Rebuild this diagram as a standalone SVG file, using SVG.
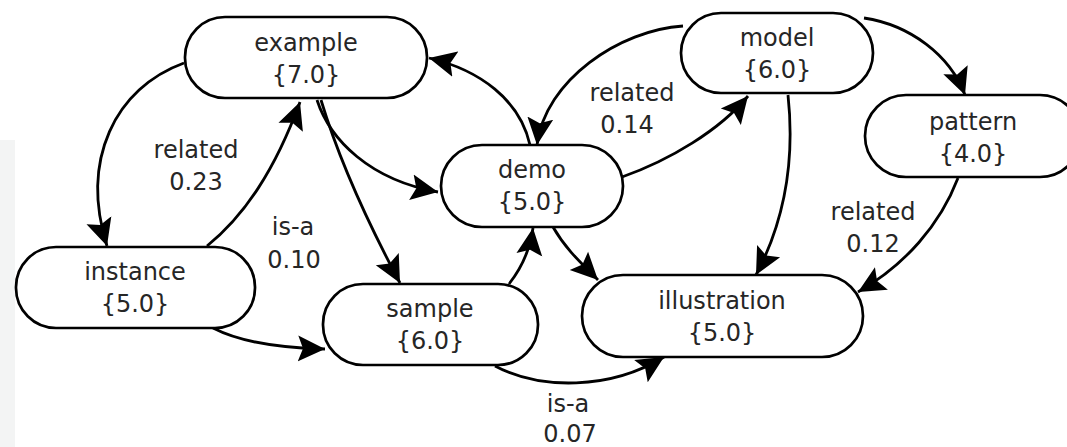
<svg xmlns="http://www.w3.org/2000/svg" width="1067" height="447" viewBox="0 0 1067 447">
<style>
.n rect{fill:#fff;stroke:#000;stroke-width:2.7}
text{font-family:"DejaVu Sans","Liberation Sans",sans-serif;font-size:24px;fill:#262626;text-anchor:middle}
.e path{fill:none;stroke:#000;stroke-width:2.8;marker-end:url(#ah)}
</style>
<defs>
<marker id="ah" markerUnits="userSpaceOnUse" markerWidth="28" markerHeight="28" viewBox="0 0 28 28" refX="27" refY="14" orient="auto">
<path d="M0,1 L27,14 L0,27 L5,14 z" fill="#000"/>
</marker>
</defs>
<rect x="0" y="140" width="15" height="307" fill="#f3f4f4"/>
<g id="connectors" class="e">
<path d="M184,63 C115,88 80,160 107,246"/>
<path d="M207,246 C245,215 275,170 300,102"/>
<path d="M317,100 C330,140 370,180 438,192"/>
<path d="M321,100 Q345,180 400,283"/>
<path d="M530,145 C520,100 480,70 429,58"/>
<path d="M683,26 C620,30 545,80 537,145"/>
<path d="M622,177 C670,160 720,130 748,96"/>
<path d="M864,18 C910,25 950,55 965,95"/>
<path d="M788,95 C795,160 785,220 756,275"/>
<path d="M958,178 C940,225 905,265 858,292"/>
<path d="M553,227 C565,248 580,262 598,280"/>
<path d="M509,284 C520,270 530,250 533,228"/>
<path d="M213,328 C240,342 280,348 325,349"/>
<path d="M495,366 C540,390 610,390 664,357"/>
</g>
<g id="edge-labels">
<text x="196" y="158">related</text><text x="196" y="190">0.23</text>
<text x="293" y="235">is-a</text><text x="294" y="268">0.10</text>
<text x="632" y="101">related</text><text x="627" y="133">0.14</text>
<text x="873" y="220">related</text><text x="873" y="252">0.12</text>
<text x="568" y="412">is-a</text><text x="570" y="442">0.07</text>
</g>
<g id="example" class="n"><rect x="185" y="17" width="242" height="81" rx="40"/><text x="306" y="51">example</text><text x="306" y="83">{7.0}</text></g>
<g id="model" class="n"><rect x="681" y="13" width="192" height="80" rx="40"/><text x="777" y="46">model</text><text x="777" y="78">{6.0}</text></g>
<g id="pattern" class="n"><rect x="865" y="95" width="216" height="82" rx="41"/><text x="973" y="130">pattern</text><text x="973" y="162">{4.0}</text></g>
<g id="demo" class="n"><rect x="441" y="145" width="182" height="82" rx="41"/><text x="532" y="178">demo</text><text x="532" y="210">{5.0}</text></g>
<g id="instance" class="n"><rect x="16" y="247" width="239" height="81" rx="40"/><text x="135" y="280">instance</text><text x="135" y="312">{5.0}</text></g>
<g id="sample" class="n"><rect x="323" y="284" width="215" height="81" rx="40"/><text x="430" y="317">sample</text><text x="430" y="349">{6.0}</text></g>
<g id="illustration" class="n"><rect x="582" y="275" width="281" height="82" rx="41"/><text x="722" y="309">illustration</text><text x="722" y="341">{5.0}</text></g>
</svg>
